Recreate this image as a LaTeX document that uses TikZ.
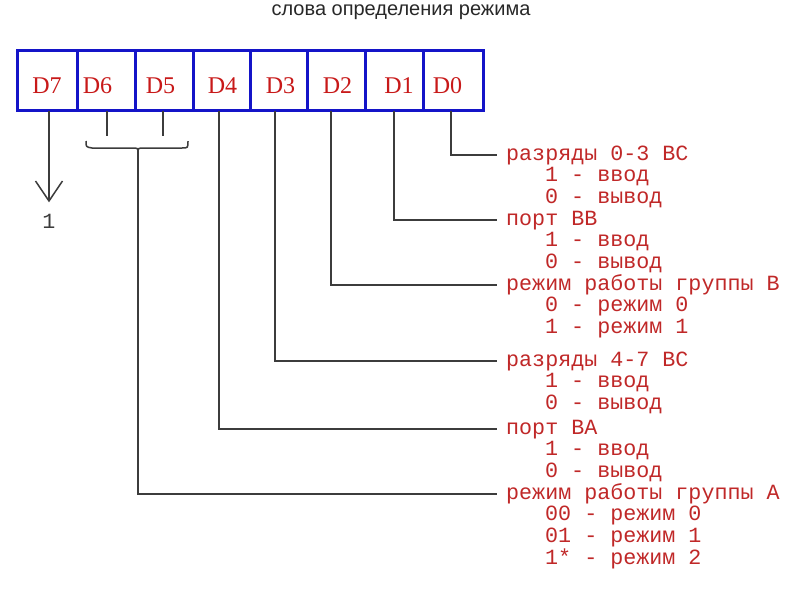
\documentclass[tikz,border=0pt]{standalone}
\usepackage{fontspec}
\setmainfont{Liberation Serif}
\newfontfamily\monof{Liberation Mono}
\newfontfamily\sansf{Liberation Sans}
\definecolor{regblue}{RGB}{20,20,200}
\definecolor{bitred}{RGB}{200,25,25}
\definecolor{txtred}{RGB}{192,40,40}
\definecolor{linegray}{RGB}{60,60,60}
\definecolor{titlegray}{RGB}{40,40,40}
\begin{document}
\begin{tikzpicture}[x=1pt,y=-1pt,
  cell/.style={draw=regblue, line width=3pt, minimum height=60pt, inner sep=0pt, anchor=north west},
  bit/.style={text=bitred, inner sep=0pt, font=\fontsize{24}{24}\selectfont},
  txt/.style={text=txtred, inner sep=0pt, anchor=base west, font=\monof\fontsize{21.7}{22}\selectfont},
  conn/.style={draw=linegray, line width=1.5pt},
  titlestyle/.style={text=titlegray, inner sep=0pt, anchor=base, font=\sansf\fontsize{20}{20}\selectfont}]
\useasboundingbox[fill=white] (0,0) rectangle (800,600);
\node[titlestyle] (title) at (401,15.5) {слова определения режима};
% register cells
\node[cell, minimum width=60pt] (c7) at (16,49) {};
\node[cell, minimum width=58pt] (c6) at (76,49) {};
\node[cell, minimum width=58pt] (c5) at (134,49) {};
\node[cell, minimum width=57pt] (c4) at (192,49) {};
\node[cell, minimum width=57pt] (c3) at (249,49) {};
\node[cell, minimum width=58pt] (c2) at (306,49) {};
\node[cell, minimum width=58pt] (c1) at (364,49) {};
\node[cell, minimum width=60pt] (c0) at (422,49) {};
\node[bit] (l7) at (47,85.5) {D7};
\node[bit] (l6) at (97.5,85.5) {D6};
\node[bit] (l5) at (160.5,85.5) {D5};
\node[bit] (l4) at (222.5,85.5) {D4};
\node[bit] (l3) at (280.5,85.5) {D3};
\node[bit] (l2) at (337.5,85.5) {D2};
\node[bit] (l1) at (399,85.5) {D1};
\node[bit] (l0) at (447.5,85.5) {D0};
% connector start points on the register bottom
\coordinate (p7) at (49,110.5);
\coordinate (p6) at (107,110.5);
\coordinate (p5) at (163,110.5);
\coordinate (p4) at (219,110.5);
\coordinate (p3) at (275,110.5);
\coordinate (p2) at (331,110.5);
\coordinate (p1) at (394,110.5);
\coordinate (p0) at (451,110.5);
% D7 arrow
\coordinate (a7) at (49,201);
\coordinate (a7l) at (35.5,181);
\coordinate (a7r) at (62.5,181);
\draw[conn] (p7) -- (a7);
\draw[conn, line join=miter] (a7l) -- (a7) -- (a7r);
\node[inner sep=0pt, text=linegray, font=\monof\fontsize{21.7}{22}\selectfont] (one) at (49,221.5) {1};
% D6, D5 brace
\coordinate (b6) at (107,136);
\coordinate (b5) at (163,136);
\coordinate (bm) at (138,153);
\draw[conn] (p6) -- (b6);
\draw[conn] (p5) -- (b5);
\draw[conn] (86,141) .. controls (86,147) .. (92,148) -- (132,148)
   .. controls (138,148) .. (bm) .. controls (138,148) .. (144,148) -- (182,148)
   .. controls (188,148) .. (188,141);
% text end points
\coordinate (e0) at (497,155);
\coordinate (e1) at (497,220);
\coordinate (e2) at (497,285);
\coordinate (e3) at (497,361);
\coordinate (e4) at (497,429);
\coordinate (e5) at (497,494);
\draw[conn] (p0) |- (e0);
\draw[conn] (p1) |- (e1);
\draw[conn] (p2) |- (e2);
\draw[conn] (p3) |- (e3);
\draw[conn] (p4) |- (e4);
\draw[conn] (bm) |- (e5);
% texts
\node[txt] (t0) at (506,160) {разряды 0-3 ВС};
\node[txt] (t0a) at (545,181.7) {1 - ввод};
\node[txt] (t0b) at (545,203.3) {0 - вывод};
\node[txt] (t1) at (506,225) {порт ВВ};
\node[txt] (t1a) at (545,246.7) {1 - ввод};
\node[txt] (t1b) at (545,268.3) {0 - вывод};
\node[txt] (t2) at (506,290) {режим работы группы В};
\node[txt] (t2a) at (545,311.7) {0 - режим 0};
\node[txt] (t2b) at (545,333.3) {1 - режим 1};
\node[txt] (t3) at (506,366) {разряды 4-7 ВС};
\node[txt] (t3a) at (545,387.7) {1 - ввод};
\node[txt] (t3b) at (545,409.3) {0 - вывод};
\node[txt] (t4) at (506,434) {порт ВА};
\node[txt] (t4a) at (545,455.7) {1 - ввод};
\node[txt] (t4b) at (545,477.3) {0 - вывод};
\node[txt] (t5) at (506,499) {режим работы группы А};
\node[txt] (t5a) at (545,520.7) {00 - режим 0};
\node[txt] (t5b) at (545,542.3) {01 - режим 1};
\node[txt] (t5c) at (545,564) {1* - режим 2};
\end{tikzpicture}
\end{document}
